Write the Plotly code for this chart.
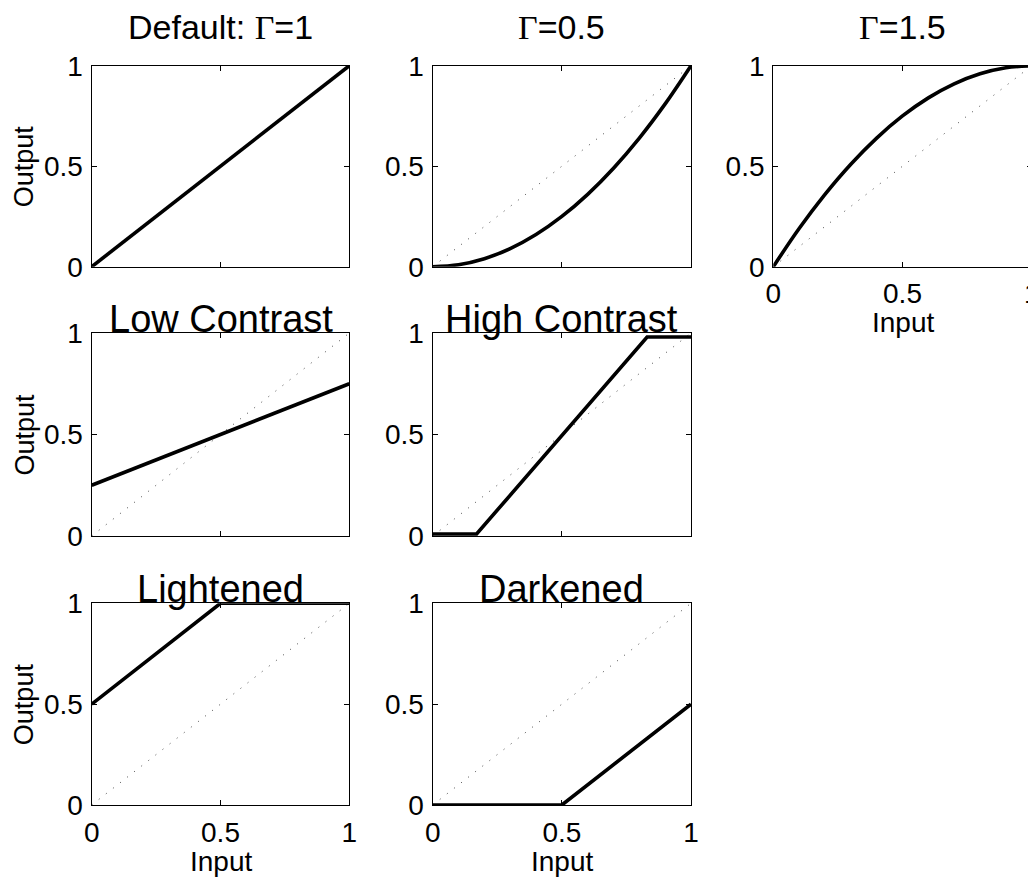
import plotly.graph_objects as go

# page body margin shifts the figure by 8px; size the figure to fill the rest
OFF = 8
W, H = 1036 - OFF, 877 - OFF

# ---------------- data ----------------
identity_x = [0, 1]
identity_y = [0, 1]

default_x = [0, 1]
default_y = [0, 1]

gamma05_x = [0, 0.1, 0.2, 0.3, 0.4, 0.5, 0.6, 0.7, 0.8, 0.9, 1.0]
gamma05_y = [0, 0.01, 0.04, 0.09, 0.16, 0.25, 0.36, 0.49, 0.64, 0.81, 1.0]

gamma15_x = [0, 0.1, 0.2, 0.3, 0.4, 0.5, 0.6, 0.7, 0.8, 0.9, 1.0]
gamma15_y = [0, 0.19, 0.36, 0.51, 0.64, 0.75, 0.84, 0.91, 0.96, 0.99, 1.0]

low_x = [0, 1]
low_y = [0.25, 0.75]

high_x = [0, 0.17, 0.83, 1]
high_y = [0.01, 0.01, 0.98, 0.98]

light_x = [0, 0.5, 1]
light_y = [0.5, 1, 1]

dark_x = [0, 0.5, 1]
dark_y = [0, 0, 0.5]

tick_vals = [0, 0.5, 1]
tick_text = ["0", "0.5", "1"]

G = "<span style='font-family:Liberation Serif'>Γ</span>"
titles = [f"Default: {G}=1", f"{G}=0.5", f"{G}=1.5",
          "Low Contrast", "High Contrast", "Lightened", "Darkened"]
curves = [(default_x, default_y, "linear"), (gamma05_x, gamma05_y, "spline"),
          (gamma15_x, gamma15_y, "spline"), (low_x, low_y, "linear"),
          (high_x, high_y, "linear"), (light_x, light_y, "linear"),
          (dark_x, dark_y, "linear")]

# ---------------- layout geometry (screen pixels) ----------------
col_px = [(91.7, 349.3), (432.7, 691.0), (773.3, 1031.7)]
row_px = [(65.7, 266.7), (333.0, 536.0), (603.3, 805.0)]
cells = [(0, 0), (0, 1), (0, 2), (1, 0), (1, 1), (2, 0), (2, 1)]
show_x_labels = [False, False, True, False, False, True, True]
title_cy = [27, 27, 27, 319, 319, 589, 589]
title_size = [34, 34, 34, 38, 38, 38, 38]

FONT = "Liberation Sans, Arial, Helvetica, sans-serif"


def px(x):
    return (x - OFF) / W


def py(y):
    return 1 - (y - OFF) / H


fig = go.Figure()
annotations = []
layout = dict(width=W, height=H, margin=dict(l=0, r=0, t=0, b=0, autoexpand=False),
              template="none",
              paper_bgcolor="white", plot_bgcolor="white", showlegend=False,
              font=dict(family=FONT, color="black"))

for i, ((r, c), (cx, cy, shape)) in enumerate(zip(cells, curves)):
    n = "" if i == 0 else str(i + 1)
    xa, ya = "x" + n, "y" + n
    fig.add_trace(go.Scatter(x=identity_x, y=identity_y, mode="lines",
                             line=dict(color="#444", width=1, dash="1px,8px"),
                             xaxis=xa, yaxis=ya, hoverinfo="skip"))
    fig.add_trace(go.Scatter(x=cx, y=cy, mode="lines",
                             line=dict(color="black", width=3.6, shape=shape),
                             xaxis=xa, yaxis=ya))
    x0, x1 = col_px[c]
    y0, y1 = row_px[r]
    common = dict(range=[0, 1], tickvals=tick_vals, ticktext=tick_text,
                  ticks="inside", ticklen=5, tickwidth=1, tickcolor="black",
                  showline=True, linecolor="black", linewidth=1.3,
                  mirror="ticks", showgrid=False, zeroline=False,
                  automargin=False, ticklabeloverflow="allow",
                  tickfont=dict(size=28, family=FONT, color="black"),
                  fixedrange=True)
    layout["xaxis" + n] = dict(common, domain=[px(x0), px(x1)], anchor=ya,
                               showticklabels=show_x_labels[i], ticklabelstandoff=2)
    layout["yaxis" + n] = dict(common, domain=[py(y1), py(y0)], anchor=xa,
                               ticklabelstandoff=2)
    annotations.append(dict(text=titles[i], x=px((x0 + x1) / 2), y=py(title_cy[i]),
                            xref="paper", yref="paper", xanchor="center", yanchor="middle",
                            showarrow=False, font=dict(size=title_size[i], family=FONT)))
    if c == 0:
        annotations.append(dict(text="Output", x=px(24), y=py((y0 + y1) / 2),
                                xref="paper", yref="paper", xanchor="center",
                                yanchor="middle", textangle=-90, showarrow=False,
                                font=dict(size=27, family=FONT)))
    if show_x_labels[i]:
        annotations.append(dict(text="Input", x=px((x0 + x1) / 2),
                                y=py(y1 + 56), xref="paper", yref="paper",
                                xanchor="center", yanchor="middle", showarrow=False,
                                font=dict(size=28, family=FONT)))

layout["annotations"] = annotations
fig.update_layout(**layout)
fig.write_html("out.html")
